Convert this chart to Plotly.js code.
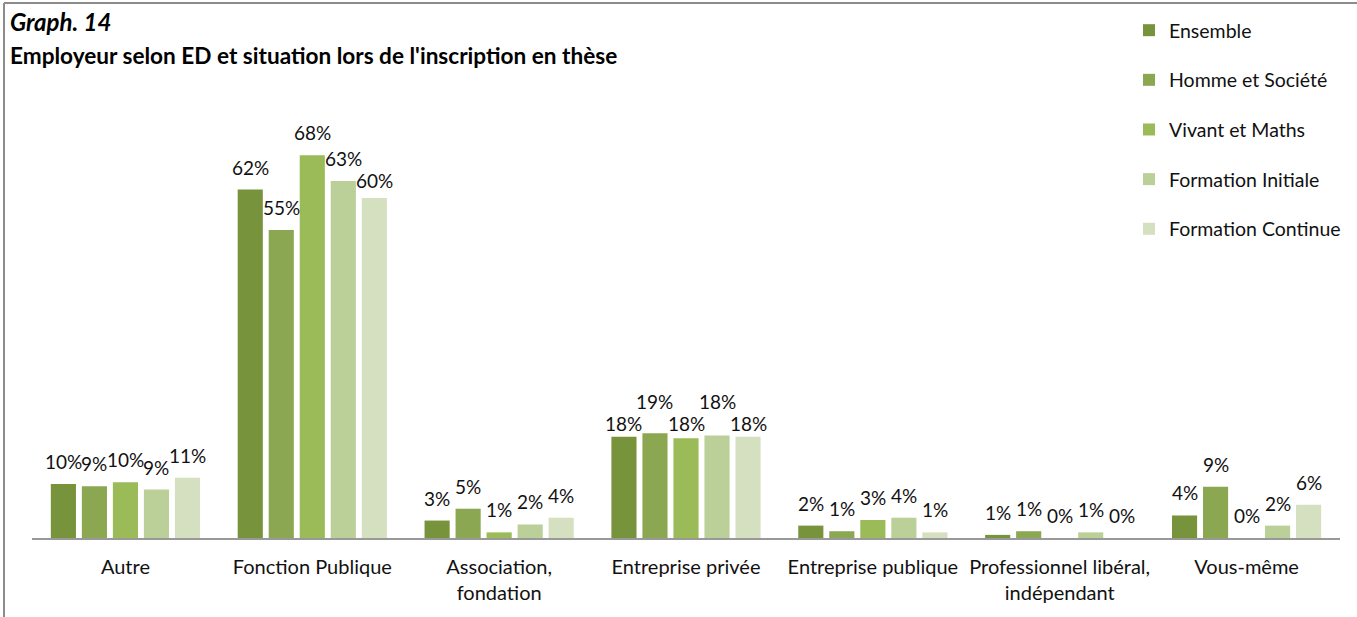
<!DOCTYPE html>
<html>
<head>
<meta charset="utf-8">
<script src="https://cdn.plot.ly/plotly-3.0.1.min.js"></script>
<style>html,body{margin:0;padding:0;background:#fff;}#chart{width:1357px;height:617px;}</style>
</head>
<body>
<div id="chart"></div>
<script>
// ---- DATA ----
const categories = ["Autre", "Fonction Publique", "Association,<br>fondation", "Entreprise privée", "Entreprise publique", "Professionnel libéral,<br>indépendant", "Vous-même"];
const seriesNames = ["Ensemble", "Homme et Société", "Vivant et Maths", "Formation Initiale", "Formation Continue"];
const ensemble          = [0.096, 0.619, 0.031, 0.180, 0.022, 0.0055, 0.040];
const hommeSociete      = [0.092, 0.547, 0.052, 0.186, 0.012, 0.012, 0.091];
const vivantMaths       = [0.099, 0.680, 0.010, 0.177, 0.032, 0.000, 0.000];
const formationInitiale = [0.086, 0.634, 0.024, 0.182, 0.036, 0.010, 0.022];
const formationContinue = [0.107, 0.604, 0.036, 0.180, 0.010, 0.000, 0.059];

function buildChart() {
  var colors = ["#77933C", "#8BA752", "#9BBB59", "#BBCF98", "#D4E0C0"];
  var FONT = "Lato, 'Open Sans', sans-serif";
  var LABEL_SIZE = 19;
  var seriesValues = [ensemble, hommeSociete, vivantMaths, formationInitiale, formationContinue];

  var W = 1357, H = 617;
  var M = {l: 32, r: 17, t: 100, b: 79, autoexpand: false};
  var plotW = W - M.l - M.r, plotH = H - M.t - M.b;
  var bargap = 0.17;
  var slot = (plotW / categories.length) * (1 - bargap) / seriesNames.length;
  var yMax = 0.778;
  var baseShift = 9;
  var labelHeight = Math.round(LABEL_SIZE * 1.25);

  var traces = seriesNames.map(function (name, i) {
    return {
      type: "bar",
      name: name,
      x: categories,
      y: seriesValues[i],
      marker: {color: colors[i], line: {width: 0}},
      legendgroup: "g" + i,
      hoverinfo: "none"
    };
  });

  var cv = document.createElement("canvas").getContext("2d");
  cv.font = LABEL_SIZE + "px Lato";
  var annotations = [];
  categories.forEach(function (cat, j) {
    var labs = seriesValues.map(function (vals, i) {
      var t = Math.round(vals[j] * 100) + "%";
      return {i: i, text: t, w: cv.measureText(t).width,
              top: plotH * vals[j] / yMax, shift: baseShift, moved: false};
    });
    for (var k = 1; k < labs.length; k++) {
      var a = labs[k - 1], b = labs[k];
      var hOverlap = (a.w + b.w) / 2 - slot;
      if (hOverlap <= 1) continue;
      var aBot = a.top + a.shift, bBot = b.top + b.shift;
      var vOverlap = labelHeight - Math.abs(aBot - bBot) - 2;
      if (vOverlap <= 0) continue;
      if (!a.moved && aBot <= bBot) {
        a.shift -= vOverlap / 2; b.shift += vOverlap / 2;
      } else {
        b.shift += (aBot <= bBot ? vOverlap : -vOverlap);
      }
      b.moved = true;
    }
    labs.forEach(function (l) {
      annotations.push({
        x: cat, y: seriesValues[l.i][j], xref: "x", yref: "y",
        text: l.text, showarrow: false, yanchor: "bottom",
        xshift: (l.i - (seriesNames.length - 1) / 2) * slot,
        yshift: l.shift,
        font: {family: FONT, size: LABEL_SIZE, color: "#111"}
      });
    });
  });

  function px2x(p) { return (p - M.l) / plotW; }
  function py2y(p) { return (H - M.b - p) / plotH; }
  annotations.push({
    xref: "paper", yref: "paper", x: px2x(8), y: py2y(21), xanchor: "left", yanchor: "middle",
    text: "<b><i>Graph. 14</i></b>", showarrow: false,
    font: {family: FONT, size: 24, color: "#000"}
  });
  annotations.push({
    xref: "paper", yref: "paper", x: px2x(8), y: py2y(55), xanchor: "left", yanchor: "middle",
    text: "<b>Employeur selon ED et situation lors de l'inscription en thèse</b>", showarrow: false,
    font: {family: FONT, size: 22.6, color: "#000"}
  });

  var shapes = [
    {type: "line", xref: "paper", yref: "paper", x0: px2x(4), x1: px2x(4), y0: py2y(3), y1: py2y(640), line: {color: "#8c8c8c", width: 2}},
    {type: "line", xref: "paper", yref: "paper", x0: px2x(4), x1: px2x(1400), y0: py2y(3), y1: py2y(3), line: {color: "#8c8c8c", width: 2}}
  ];

  var layout = {
    width: W, height: H,
    margin: M,
    paper_bgcolor: "#fff", plot_bgcolor: "#fff",
    font: {family: FONT, size: 20, color: "#111"},
    barmode: "group",
    bargap: bargap,
    bargroupgap: 0.19,
    showlegend: true,
    legend: {
      xref: "container", yref: "container",
      x: 1129 / W, y: 1 - 11 / H, xanchor: "left", yanchor: "top",
      traceorder: "grouped", tracegroupgap: 21.3,
      font: {family: FONT, size: 19.5, color: "#111"},
      bgcolor: "rgba(0,0,0,0)"
    },
    xaxis: {
      type: "category",
      showline: true, linecolor: "#999", linewidth: 2,
      showgrid: false, zeroline: false,
      ticks: "", ticklabelstandoff: 10,
      tickfont: {family: FONT, size: 20, color: "#111"},
      fixedrange: true
    },
    yaxis: {
      range: [0, yMax], visible: false, showgrid: false, zeroline: false, fixedrange: true
    },
    annotations: annotations,
    shapes: shapes
  };

  Plotly.newPlot("chart", traces, layout, {displayModeBar: false, staticPlot: true});
}
buildChart();
</script>
</body>
</html>
